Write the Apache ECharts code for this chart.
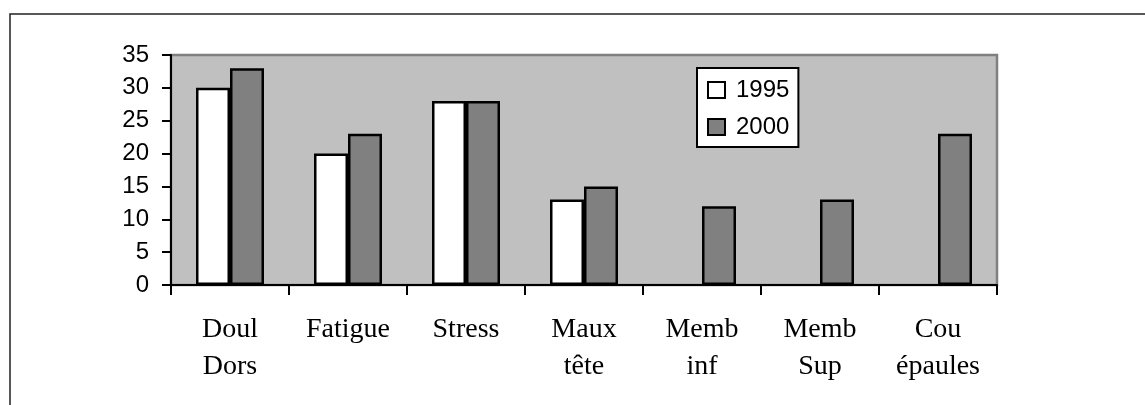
<!doctype html>
<html>
<head>
<meta charset="utf-8">
<title>Troubles</title>
<script src="https://cdn.jsdelivr.net/npm/echarts@6/dist/echarts.min.js"></script>
<style>
  html, body { margin: 0; padding: 0; background: #fff; }
  #chart { width: 1145px; height: 405px; }
</style>
</head>
<body>
<div id="chart"></div>
<script type="text/javascript">
// categories and values
var categories = ['Doul\nDors', 'Fatigue', 'Stress', 'Maux\ntête', 'Memb\ninf', 'Memb\nSup', 'Cou\népaules'];
var values1995 = [30, 20, 28, 13, null, null, null];
var values2000 = [33, 23, 28, 15, 12, 13, 23];
var yTicks = [0, 5, 10, 15, 20, 25, 30, 35];

var chart = echarts.init(document.getElementById('chart'));
chart.setOption({
  animation: false,
  graphic: [{
    type: 'rect',
    shape: { x: 10, y: 14, width: 1200, height: 500 },
    style: { fill: 'none', stroke: '#222', lineWidth: 1.5 },
    z: -10
  }],
  grid: {
    left: 171, top: 55, right: 148, bottom: 120,
    show: true,
    backgroundColor: '#c0c0c0',
    borderColor: '#808080',
    borderWidth: 2.5
  },
  legend: {
    orient: 'vertical',
    left: 697, top: 68,
    padding: [10, 9, 8, 10],
    itemGap: 13,
    itemWidth: 17, itemHeight: 16,
    backgroundColor: '#fff',
    borderColor: '#000',
    borderWidth: 2,
    borderRadius: 0,
    icon: 'rect',
    itemStyle: { borderColor: '#000', borderWidth: 2 },
    textStyle: {
      fontFamily: 'Liberation Sans, Arial, sans-serif',
      fontSize: 24, lineHeight: 24, color: '#000',
      padding: [0, 0, 0, 6]
    },
    data: ['1995', '2000']
  },
  xAxis: {
    type: 'category',
    data: categories,
    axisLine: { lineStyle: { color: '#000', width: 2 } },
    axisTick: { show: true, length: 10, interval: 0, lineStyle: { color: '#000', width: 2 } },
    axisLabel: {
      interval: 0,
      margin: 26,
      fontFamily: 'Liberation Serif, Times New Roman, serif',
      fontSize: 28, lineHeight: 37, color: '#000', align: 'center'
    }
  },
  yAxis: {
    type: 'value',
    min: yTicks[0], max: yTicks[yTicks.length - 1], interval: 5,
    axisLine: { show: true, lineStyle: { color: '#000', width: 2 } },
    axisTick: { show: true, length: 9, lineStyle: { color: '#000', width: 2 } },
    splitLine: { show: false },
    axisLabel: {
      margin: 22,
      fontFamily: 'Liberation Sans, Arial, sans-serif',
      fontSize: 24, color: '#000'
    }
  },
  series: [{
    name: '1995', type: 'bar', data: values1995,
    barWidth: 34, barGap: '0%',
    itemStyle: { color: '#fff', borderColor: '#000', borderWidth: 2.5 }
  }, {
    name: '2000', type: 'bar', data: values2000,
    barWidth: 34,
    itemStyle: { color: '#808080', borderColor: '#000', borderWidth: 2.5 }
  }]
});
</script>
</body>
</html>
